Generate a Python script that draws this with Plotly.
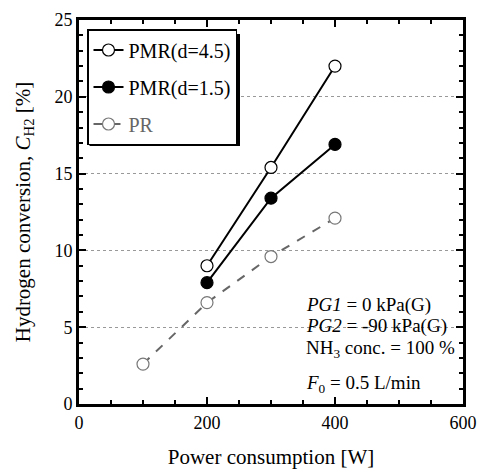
import plotly.graph_objects as go

power_pmr = [200, 300, 400]
pmr45 = [9.0, 15.4, 22.0]
pmr15 = [7.9, 13.4, 16.9]
power_pr = [100, 200, 300, 400]
pr = [2.6, 6.6, 9.6, 12.1]

x_ticks = [0, 200, 400, 600]
y_ticks = [0, 5, 10, 15, 20, 25]

FONT = "Liberation Serif, Times New Roman, serif"

fig = go.Figure()
fig.add_trace(go.Scatter(
    x=power_pmr, y=pmr45, name="PMR(d=4.5)", mode="lines+markers", legendgroup="a",
    line=dict(color="black", width=2),
    marker=dict(symbol="circle", size=12, color="white", line=dict(color="black", width=1.2)),
))
fig.add_trace(go.Scatter(
    x=power_pmr, y=pmr15, name="PMR(d=1.5)", mode="lines+markers", legendgroup="b",
    line=dict(color="black", width=2),
    marker=dict(symbol="circle", size=12, color="black", line=dict(color="black", width=1.2)),
))
fig.add_trace(go.Scatter(
    x=power_pr, y=pr, name="<span style='color:#666666'>PR</span>", mode="lines+markers", legendgroup="c",
    line=dict(color="#666666", width=2, dash="dash"),
    marker=dict(symbol="circle", size=12, color="white", line=dict(color="#777777", width=1.2)),
))

axis_common = dict(
    showline=True, linecolor="black", linewidth=3, mirror="allticks",
    ticks="inside", ticklen=7, tickwidth=2, tickcolor="black",
    tickfont=dict(family=FONT, size=18, color="black"),
    zeroline=False, automargin=False,
)

fig.update_xaxes(
    range=[0, 600], tickvals=x_ticks, showgrid=False,
    minor=dict(dtick=50, ticks="inside", ticklen=4, tickwidth=2, tickcolor="black", showgrid=False),
    title=dict(text="Power consumption [W]", font=dict(family=FONT, size=21, color="black"), standoff=18),
    **axis_common,
)
fig.update_yaxes(
    range=[0, 25], tickvals=y_ticks, showgrid=True, gridcolor="#999999", griddash="dot", gridwidth=1,
    minor=dict(dtick=1, ticks="inside", ticklen=4, tickwidth=2, tickcolor="black", showgrid=False),
    title=dict(text="Hydrogen conversion, <i>C</i><sub>H2</sub> [%]", font=dict(family=FONT, size=21, color="black"), standoff=19),
    **axis_common,
)

ann_font = dict(family=FONT, size=19, color="black")
notes = [
    ("<i>PG1</i> = 0 kPa(G)", 6.45),
    ("<i>PG2</i> = -90 kPa(G)", 5.1),
    ("NH<sub>3</sub> conc. = 100 %", 3.55),
    ("<i>F</i><sub>0</sub> = 0.5 L/min", 1.3),
]
for txt, yy in notes:
    fig.add_annotation(x=352, y=yy, xref="x", yref="y", text=txt, showarrow=False,
                       xanchor="left", yanchor="middle", font=ann_font, bgcolor="rgba(0,0,0,0)")

# legend drop shadow (right/bottom thick edge)
fig.add_shape(type="rect", xref="paper", yref="paper",
              x0=(89.5 - 79) / 384, x1=(240 - 79) / 384,
              y0=(404 - 146) / 384, y1=(404 - 34) / 384,
              fillcolor="black", line=dict(width=0), layer="above")

fig.update_layout(
    width=481, height=470,
    margin=dict(l=79, r=18, t=20, b=66),
    paper_bgcolor="white", plot_bgcolor="white",
    font=dict(family=FONT, size=18, color="black"),
    showlegend=True,
    legend=dict(x=(87 - 79) / 384, y=(404 - 29) / 384, xanchor="left", yanchor="top",
                bgcolor="white", bordercolor="black", borderwidth=1.5,
                font=dict(family=FONT, size=20, color="black"),
                tracegroupgap=8, itemwidth=30),
)

fig.write_html("out.html", config={"displayModeBar": False},
               post_script="document.body.style.margin='0';")
